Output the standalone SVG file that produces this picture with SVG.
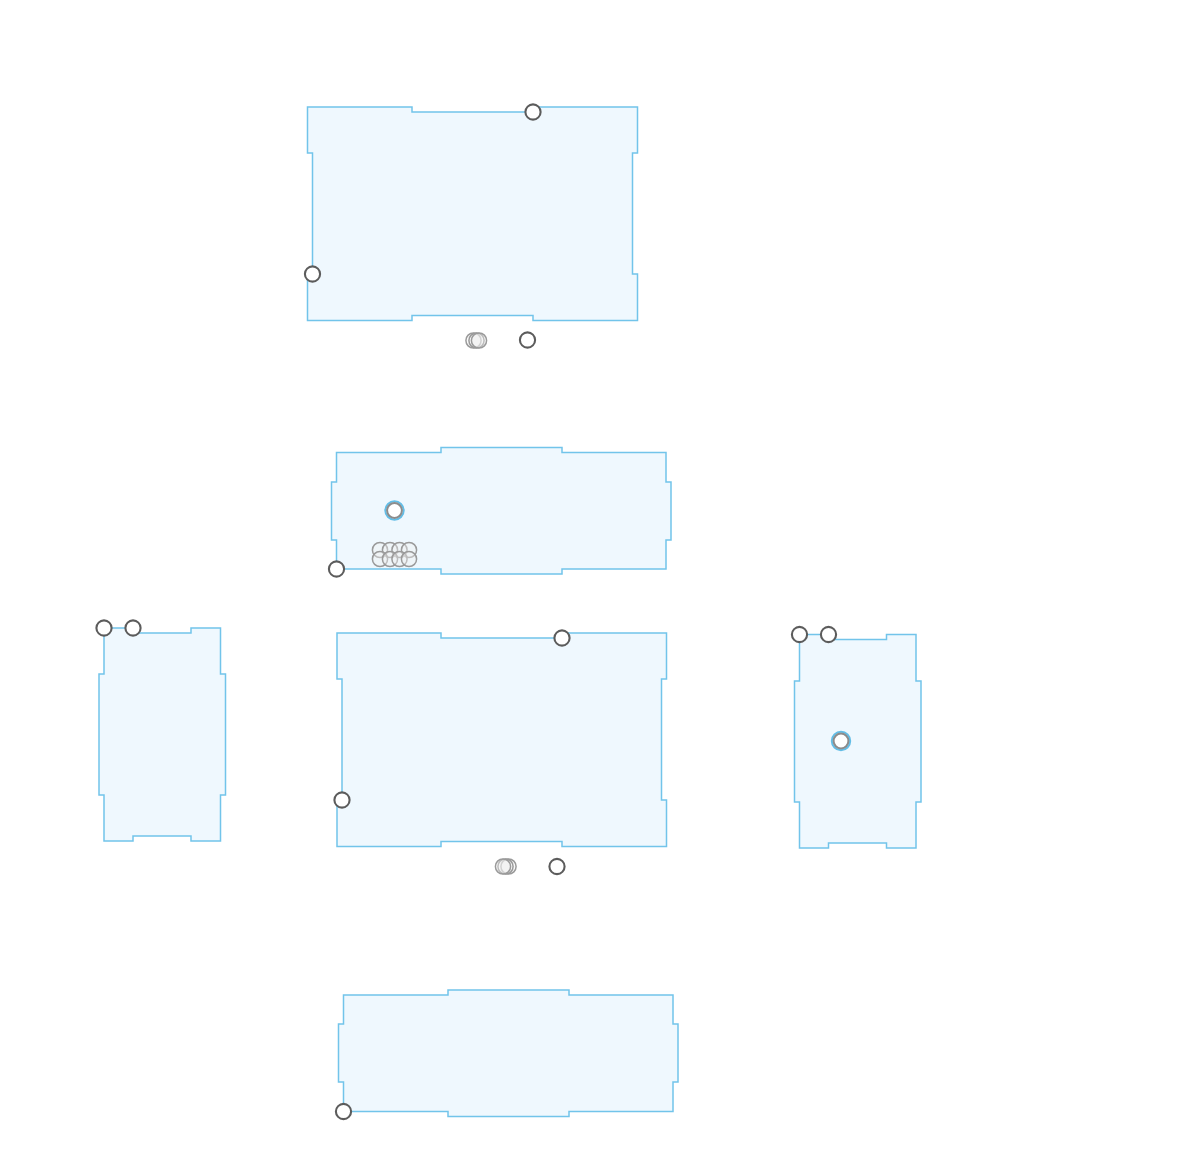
<svg xmlns="http://www.w3.org/2000/svg" width="1197" height="1173" viewBox="0 0 1197 1173">
<style>
.room{fill:#eff8fe;stroke:#72c4ea;stroke-width:1.5}
.h{fill:#fff;stroke:#5c5c5c;stroke-width:2.1}
.f{fill:#f0f0f0;fill-opacity:.4;stroke:#9a9a9a;stroke-width:1.5}
.r{fill:#fff;stroke:#8c8c8c;stroke-width:2}
.ring{fill:none;stroke:#62bde6;stroke-width:2}
</style>
<rect width="1197" height="1173" fill="#fff"/>
<g id="room-top">
<path class="room" d="M307.5 107H412V112H533V107H637.5V153H632.5V274H637.5V320.5H533V315.5H412V320.5H307.5V274H312.5V153H307.500Z"/>
<circle class="h" cx="533" cy="112" r="7.600"/>
<circle class="h" cx="312.500" cy="274" r="7.600"/>
<circle class="f" cx="473.500" cy="340.500" r="7.600"/>
<circle class="f" cx="476.500" cy="340.500" r="7.600"/>
<circle class="f" cx="479" cy="340.500" r="7.600"/>
<circle class="h" cx="527.500" cy="340" r="7.600"/>
</g>
<g id="room-upper">
<path class="room" d="M336.500 452.500H441V447.500H562V452.500H666V482H671V540H666V569H562V574H441V569H336.500V540H331.500V482H336.500Z"/>
<circle class="ring" cx="394.500" cy="510.500" r="9.200"/>
<circle class="r" cx="394.500" cy="510.500" r="7.400"/>
<circle class="f" cx="380" cy="550" r="7.600"/>
<circle class="f" cx="390" cy="550" r="7.600"/>
<circle class="f" cx="399.500" cy="550" r="7.600"/>
<circle class="f" cx="409" cy="550" r="7.600"/>
<circle class="f" cx="380" cy="559" r="7.600"/>
<circle class="f" cx="390" cy="559" r="7.600"/>
<circle class="f" cx="399.500" cy="559" r="7.600"/>
<circle class="f" cx="409" cy="559" r="7.600"/>
<circle class="h" cx="336.500" cy="569" r="7.600"/>
</g>
<g id="room-left">
<path class="room" d="M104 628H133V633H191V628H220.500V674H225.500V795H220.500V841H191V836H133V841H104V795H99V674H104Z"/>
<circle class="h" cx="104" cy="628" r="7.600"/>
<circle class="h" cx="133" cy="628" r="7.600"/>
</g>
<g id="room-center">
<path class="room" d="M337 633H441V638H562V633H666.500V679H661.500V800H666.500V846.500H562V841.500H441V846.500H337V800H342V679H337Z"/>
<circle class="h" cx="562" cy="638" r="7.600"/>
<circle class="h" cx="342" cy="800" r="7.600"/>
<circle class="f" cx="508.500" cy="866.500" r="7.600"/>
<circle class="f" cx="505.500" cy="866.500" r="7.600"/>
<circle class="f" cx="503" cy="866.500" r="7.600"/>
<circle class="h" cx="557" cy="866.500" r="7.600"/>
</g>
<g id="room-right">
<path class="room" d="M799.500 634.500H828.500V639.500H886.500V634.500H916V681H921V802H916V848H886.500V843H828.500V848H799.500V802H794.500V681H799.500Z"/>
<circle class="h" cx="799.500" cy="634.500" r="7.600"/>
<circle class="h" cx="828.500" cy="634.500" r="7.600"/>
<circle class="ring" cx="841" cy="741" r="9.200"/>
<circle class="r" cx="841" cy="741" r="7.400"/>
</g>
<g id="room-bottom">
<path class="room" d="M343.500 995H448V990H569V995H673V1024H678V1082H673V1111.500H569V1116.500H448V1111.500H343.500V1082H338.500V1024H343.500Z"/>
<circle class="h" cx="343.500" cy="1111.500" r="7.600"/>
</g>
<g id="connectors"/>
</svg>
